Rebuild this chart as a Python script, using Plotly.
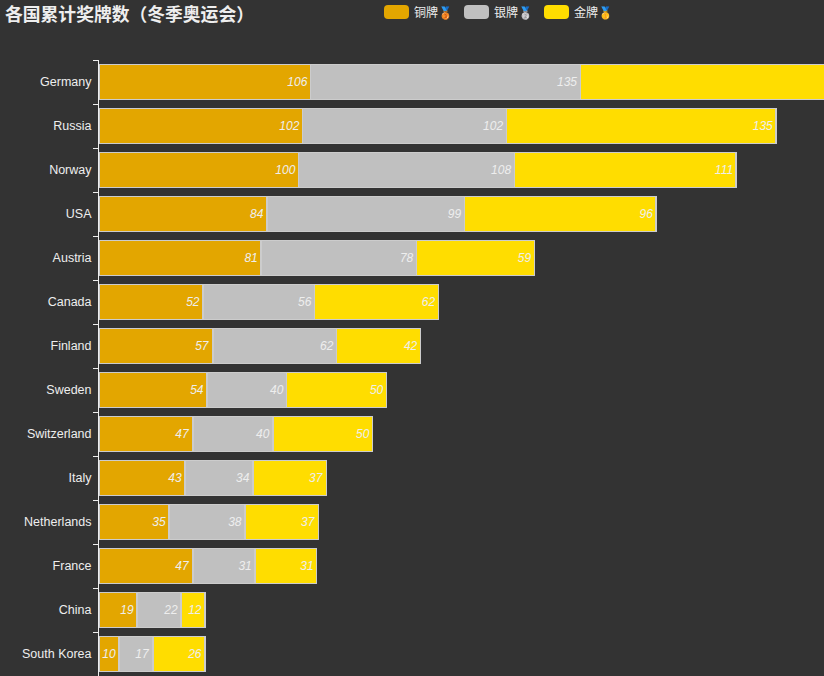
import plotly.graph_objects as go

countries = ["Germany", "Russia", "Norway", "USA", "Austria", "Canada", "Finland", "Sweden",
             "Switzerland", "Italy", "Netherlands", "France", "China", "South Korea"]
bronze = [106, 102, 100, 84, 81, 52, 57, 54, 47, 43, 35, 47, 19, 10]
silver = [135, 102, 108, 99, 78, 56, 62, 40, 40, 34, 38, 31, 22, 17]
gold = [136, 135, 111, 96, 59, 62, 42, 50, 50, 37, 37, 31, 12, 26]
# The first gold label lies past the right edge in the reference, so it is not drawn.
gold_labels = [""] + [str(v) for v in gold[1:]]
series = [("铜牌", bronze, "#e3a600", bronze), ("银牌", silver, "#c0c0c0", silver), ("金牌", gold, "#ffdd00", gold_labels)]
medals = ["🥉", "🥈", "🥇"]
title = "各国累计奖牌数（冬季奥运会）"
FONT = "Noto Sans CJK SC, Liberation Sans, sans-serif"
W, H, L, T = 824, 676, 99, 60
PW, PH = W - L, H - T


def px(x):
    return (x - L) / PW


def py(y):
    return 1 + (T - y) / PH


def rounded(x0, x1, y0, y1, r):
    pts = [("M", x0 + r, y0), ("L", x1 - r, y0), ("Q", x1, y0, x1, y0 + r), ("L", x1, y1 - r),
           ("Q", x1, y1, x1 - r, y1), ("L", x0 + r, y1), ("Q", x0, y1, x0, y1 - r),
           ("L", x0, y0 + r), ("Q", x0, y0, x0 + r, y0)]
    out = []
    for p in pts:
        coords = p[1:]
        parts = [f"{px(coords[i]):.5f},{py(coords[i + 1]):.5f}" for i in range(0, len(coords), 2)]
        out.append(p[0] + " ".join(parts))
    return " ".join(out) + " Z"


fig = go.Figure()
for (name, vals, color, labels) in series:
    fig.add_trace(go.Bar(
        y=countries, x=vals, name=name, orientation="h",
        marker=dict(color=color, line=dict(color="#cccccc", width=1.5)),
        text=labels, textposition="inside", insidetextanchor="end", textangle=0,
        texttemplate="<i>%{text}</i>", constraintext="none",
        textfont=dict(color="#eeeeee", size=12, family="Liberation Sans"),
        showlegend=False,
    ))

shapes, annos = [], []
for (name, vals, color, labels), medal, x0 in zip(series, medals, [384, 464, 544]):
    shapes.append(dict(type="path", xref="paper", yref="paper", fillcolor=color, line=dict(width=0),
                       path=rounded(x0, x0 + 25, 5, 19, 4)))
    annos.append(dict(xref="paper", yref="paper", x=px(x0 + 30), y=py(12),
                      text=name + medal, showarrow=False, xanchor="left", yanchor="middle", xshift=-2,
                      font=dict(color="#eeeeee", size=12, family=FONT)))
annos.append(dict(xref="paper", yref="paper", x=px(5), y=py(13), text="<b>" + title + "</b>",
                  showarrow=False, xanchor="left", yanchor="middle", xshift=-2,
                  font=dict(color="#eeeeee", size=17.8, family=FONT)))

fig.update_layout(
    width=W, height=H, margin=dict(l=L, r=0, t=T, b=0),
    paper_bgcolor="#333333", plot_bgcolor="#333333",
    barmode="stack", bargap=0.2, showlegend=False,
    font=dict(family="Liberation Sans", color="#eeeeee", size=12),
    shapes=shapes, annotations=annos,
    xaxis=dict(range=[0, 363], visible=False),
    yaxis=dict(autorange="reversed", type="category", showline=True, linecolor="#eeeeee", linewidth=1,
               ticks="outside", tickson="boundaries", ticklen=5, tickcolor="#eeeeee", showgrid=False,
               zeroline=False, ticklabelstandoff=4, tickfont=dict(color="#eeeeee", size=12.5)),
)
fig.write_html("out.html", config={"displayModeBar": False}, post_script=(
    "document.body.style.margin='0';document.body.style.background='#333333';"
    "document.documentElement.style.overflow='hidden';"))
